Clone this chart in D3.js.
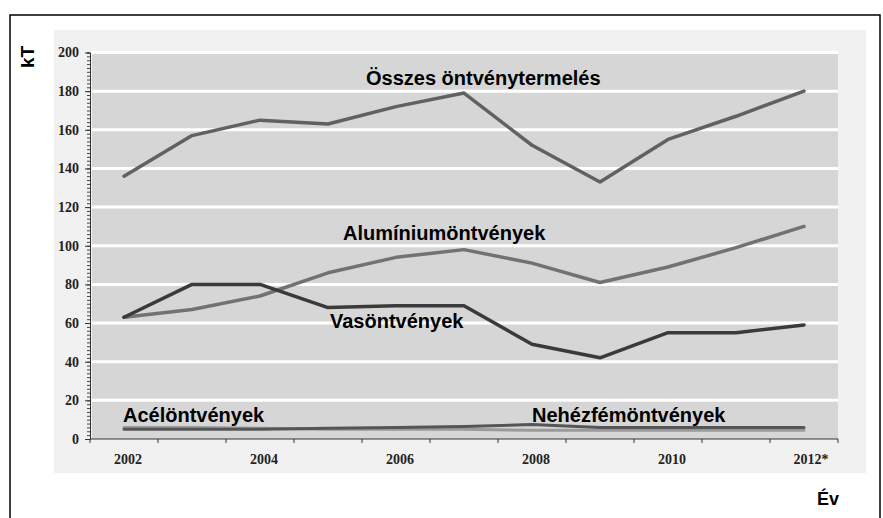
<!DOCTYPE html>
<meta charset="utf-8">
<body style="margin:0;background:#fff">
<script src="https://d3js.org/d3.v7.min.js"></script>
<script>
// years on the x axis, only every second one gets a label
var years = ["2002","2003","2004","2005","2006","2007","2008","2009","2010","2011","2012"];
var yearLabels = {"2002":"2002","2004":"2004","2006":"2006","2008":"2008","2010":"2010","2012":"2012*"};
var yTicks = [0,20,40,60,80,100,120,140,160,180,200];

// production, kT
var osszes    = [136,157,165,163,172,179,152,133,155,167,180];
var aluminium = [63,67,74,86,94,98,91,81,89,99,110];
var vas       = [63,80,80,68,69,69,49,42,55,55,59];
var nehezfem  = [5,5,5,5.5,6,6.5,7.5,6,6,6,6];
var acel      = [6,6,5.5,5,5,5,4.5,4.5,4.5,4.5,4.5];

var W = 883, H = 518;
var svg = d3.select("body").append("svg").attr("width", W).attr("height", H);

// outer frame
svg.append("rect").attr("x",10).attr("y",15).attr("width",870).attr("height",520)
  .attr("fill","#fff").attr("stroke","#000").attr("stroke-width",1.5);

// pasted picture background
svg.append("rect").attr("x",54).attr("y",30).attr("width",812).attr("height",443).attr("fill","#f1f1f1");

var pLeft = 90, pRight = 838, pTop = 52.5, pBottom = 439;

var x = d3.scalePoint().domain(years).range([pLeft, pRight]).padding(0.5);
var y = d3.scaleLinear().domain([0,200]).range([pBottom, pTop]);

svg.append("rect").attr("x",pLeft+2).attr("y",pTop).attr("width",pRight-pLeft-2).attr("height",pBottom-pTop).attr("fill","#d6d6d6");

// white grid lines
svg.selectAll(".grid").data(yTicks.slice(1)).enter().append("line")
  .attr("x1",pLeft+2).attr("x2",pRight).attr("y1",d=>y(d)).attr("y2",d=>y(d))
  .attr("stroke","#fff").attr("stroke-width",3);

// y axis with minor ticks
var yMinor = svg.append("g").attr("transform","translate("+pLeft+",0)")
  .call(d3.axisLeft(y).tickValues(d3.range(0,201,2)).tickSize(3).tickFormat(""));
yMinor.select(".domain").attr("stroke","#333");
yMinor.selectAll(".tick line").attr("stroke","#444");
var yMajor = svg.append("g").attr("transform","translate("+pLeft+",0)")
  .call(d3.axisLeft(y).tickValues(yTicks).tickSize(5).tickPadding(6));
yMajor.select(".domain").remove();
yMajor.selectAll("text").attr("font-family","Liberation Serif").attr("font-weight","bold")
  .attr("font-size",14).attr("fill","#222");
yMajor.selectAll(".tick line").attr("stroke","#333");

// x axis, ticks between the years
var bounds = d3.range(years.length+1).map(i => pLeft + i*(pRight-pLeft)/years.length);
svg.append("line").attr("x1",pLeft).attr("x2",pRight).attr("y1",pBottom).attr("y2",pBottom)
  .attr("stroke","#333").attr("stroke-width",1.2);
svg.selectAll(".xt").data(bounds).enter().append("line")
  .attr("x1",d=>d).attr("x2",d=>d).attr("y1",pBottom).attr("y2",pBottom+4)
  .attr("stroke","#333");
svg.selectAll(".xl").data(years.filter(d => yearLabels[d])).enter().append("text")
  .attr("x",d=>x(d)+4 + (d=="2012" ? 3 : 0)).attr("y",pBottom+25).attr("text-anchor","middle")
  .attr("font-family","Liberation Serif").attr("font-weight","bold").attr("font-size",14)
  .attr("fill","#222").text(d=>yearLabels[d]);

var line = d3.line().x((d,i)=>x(years[i])).y(d=>y(d));

function draw(data, color, w){
  svg.append("path").datum(data).attr("d",line).attr("fill","none")
    .attr("stroke",color).attr("stroke-width",w).attr("stroke-linejoin","round").attr("stroke-linecap","round");
}
draw(acel, "#9a9a9a", 3);
draw(nehezfem, "#555", 3);
draw(aluminium, "#727272", 3.5);
draw(vas, "#3a3a3a", 3.5);
draw(osszes, "#616161", 3.5);

// series labels
var labels = [
  {t:"Összes öntvénytermelés", x:366, y:85},
  {t:"Alumíniumöntvények", x:343, y:240},
  {t:"Vasöntvények", x:330, y:328},
  {t:"Acélöntvények", x:123, y:422},
  {t:"Nehézfémöntvények", x:532, y:422}
];
svg.selectAll(".lab").data(labels).enter().append("text")
  .attr("x",d=>d.x).attr("y",d=>d.y)
  .attr("font-family","Liberation Sans, Arial").attr("font-weight","bold").attr("font-size",20)
  .attr("fill","#000").text(d=>d.t);

svg.append("text").attr("transform","translate(34,68) rotate(-90)")
  .attr("font-family","Liberation Sans, Arial").attr("font-weight","bold").attr("font-size",19)
  .text("kT");
svg.append("text").attr("x",817).attr("y",505)
  .attr("font-family","Liberation Sans, Arial").attr("font-weight","bold").attr("font-size",18)
  .text("Év");
</script>
</body>
